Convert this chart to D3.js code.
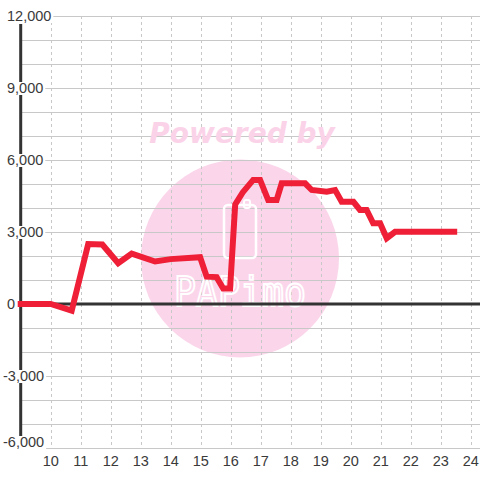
<!DOCTYPE html>
<html><head><meta charset="utf-8">
<script src="https://cdn.jsdelivr.net/npm/d3@7"></script>
<style>body{margin:0;background:#fff}svg{display:block}</style>
</head><body>
<script>
const xValues = [8.9, 10.0, 10.7, 11.25, 11.72, 12.25, 12.7, 13.48, 14.0, 14.98, 15.2, 15.53, 15.75, 15.98, 16.15, 16.4, 16.75, 16.98, 17.25, 17.53, 17.7, 18.48, 18.7, 19.2, 19.48, 19.7, 20.09, 20.31, 20.53, 20.75, 20.98, 21.2, 21.48, 23.55];
const yValues = [0, 0, -280, 2500, 2480, 1700, 2100, 1770, 1870, 1950, 1140, 1120, 650, 650, 4150, 4650, 5170, 5170, 4330, 4330, 5030, 5030, 4750, 4680, 4750, 4260, 4260, 3920, 3920, 3360, 3360, 2740, 3010, 3010];
const xTicks = [10, 11, 12, 13, 14, 15, 16, 17, 18, 19, 20, 21, 22, 23, 24];
const yLabelTicks = [12000, 9000, 6000, 3000, 0, -3000, -6000];
const yGridTicks = d3.range(-6000, 12001, 1000);

const W = 480, H = 480;
const svg = d3.select("body").append("svg").attr("width", W).attr("height", H);
const x = d3.scaleLinear().domain([9, 24.3]).range([20.7, 479.7]);
const y = d3.scaleLinear().domain([-6000, 12000]).range([448, 16]);

// watermark circle
svg.append("circle").attr("cx", 240).attr("cy", 258.5).attr("r", 99).attr("fill", "#fbd6eb");

// horizontal grid
svg.append("g").selectAll("line").data(yGridTicks).join("line")
  .attr("x1", x(9)).attr("x2", W).attr("y1", d => y(d) + 0.5).attr("y2", d => y(d) + 0.5)
  .attr("stroke", "#c8c8c8").attr("stroke-width", 1);
// vertical dashed grid
svg.append("g").selectAll("line").data(xTicks).join("line")
  .attr("x1", d => Math.round(x(d)) + 0.5).attr("x2", d => Math.round(x(d)) + 0.5)
  .attr("y1", y(12000)).attr("y2", y(-6000))
  .attr("stroke", "#c8c8c8").attr("stroke-width", 1).attr("stroke-dasharray", "3,3");

// watermark text + logo
svg.append("text").attr("x", 242).attr("y", 143).attr("text-anchor", "middle")
  .attr("font-family", "DejaVu Sans").attr("font-weight", "bold").attr("font-style", "italic")
  .attr("font-size", 28).attr("fill", "#fbd3e9").text("Powered by");
svg.append("rect").attr("x", 224).attr("y", 205).attr("width", 32).attr("height", 53).attr("rx", 4)
  .attr("fill", "none").attr("stroke", "#fff").attr("stroke-width", 2.5);
svg.append("rect").attr("x", 244).attr("y", 200).attr("width", 6).attr("height", 8).attr("rx", 2)
  .attr("fill", "none").attr("stroke", "#fff").attr("stroke-width", 2);
svg.append("text").attr("x", 174).attr("y", 306)
  .attr("font-family", "DejaVu Sans Mono").attr("font-size", 40)
  .attr("textLength", 132).attr("lengthAdjust", "spacingAndGlyphs")
  .attr("fill", "none").attr("stroke", "#fff").attr("stroke-width", 2)
  .text("PAPimo");

// zero line
svg.append("line").attr("x1", x(9)).attr("x2", W).attr("y1", y(0)).attr("y2", y(0))
  .attr("stroke", "#333").attr("stroke-width", 3);
// y spine
svg.append("line").attr("x1", x(9)).attr("x2", x(9)).attr("y1", 24).attr("y2", 436)
  .attr("stroke", "#333").attr("stroke-width", 3);

// y labels with white background
const fmt = v => d3.format(",")(v).replace("\u2212", "-");
const yl = svg.append("g").attr("font-family", "Liberation Sans, Arial, sans-serif").attr("font-size", 14.5).attr("fill", "#3a3a3a");
yLabelTicks.forEach(v => {
  const cy = Math.min(y(v), 442);
  const t = yl.append("text").attr("x", v < 0 ? 3 : 7).attr("y", cy + 5).text(fmt(v));
  const b = t.node().getBBox();
  yl.insert("rect", "text").attr("x", b.x - 1).attr("y", cy - 6).attr("width", b.width + 3).attr("height", 13).attr("fill", "#fff");
});
// x labels
svg.append("g").attr("font-family", "Liberation Sans, Arial, sans-serif").attr("font-size", 14.5).attr("fill", "#3a3a3a")
  .selectAll("text").data(xTicks).join("text")
  .attr("x", d => x(d)).attr("y", 466).attr("text-anchor", "middle").text(d => d);

// data line
const line = d3.line().x((d, i) => x(xValues[i])).y(d => y(d));
svg.append("path").datum(yValues).attr("d", line)
  .attr("fill", "none").attr("stroke", "#ee1f36").attr("stroke-width", 6).attr("stroke-linejoin", "miter");
</script>
</body></html>
